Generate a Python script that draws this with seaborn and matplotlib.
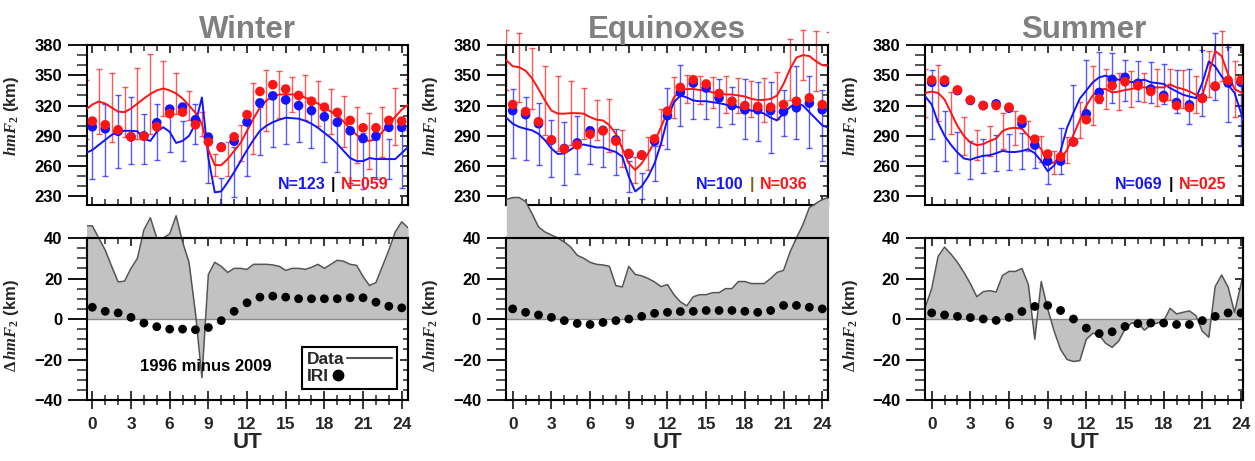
import numpy as np
import matplotlib
matplotlib.use("Agg")
import matplotlib.pyplot as plt
import seaborn as sns
from matplotlib.ticker import FixedLocator, MultipleLocator
from matplotlib.patches import Rectangle
from matplotlib.lines import Line2D
from matplotlib.legend_handler import HandlerLine2D
from matplotlib.offsetbox import TextArea, HPacker, AnchoredOffsetbox

# ---------------- data ----------------
hours = np.arange(0, 25)                 # IRI points / 2009 error bars
hours_half = np.arange(-0.5, 24.51, 0.5)  # observed median curves
hours_red_err = hours_half[0::2]         # 1996 error bars

seasons = ["Winter", "Equinoxes", "Summer"]
n_2009 = ["N=123", "N=100", "N=069"]
n_1996 = ["N=059", "N=036", "N=025"]

# Winter
w_blue_line = [273, 276, 281, 286, 291, 294, 295, 295, 294.5, 287, 285, 294, 298.5, 294, 283, 285, 290, 302, 328, 268,
               234, 235, 244, 254, 265, 276, 286, 295, 300, 303.5, 306, 308, 307.5, 307, 305, 302, 298, 293, 288, 282,
               275, 268, 265, 265, 268, 267, 267, 267, 267, 273, 279]
w_red_line = [316, 321, 324, 322, 318, 314, 313.5, 317, 322, 327, 331.5, 335, 337, 335, 332, 327, 320, 313, 302, 276,
              261, 261, 267, 275, 283, 295, 307, 318, 325, 329, 331, 331, 331, 330, 328, 325, 322, 318, 314, 310,
              304, 297, 291, 286, 285, 287, 294, 301, 309, 316, 321]
w_blue_dots = [299, 297, 294.5, 289, 290, 303, 316.5, 318.5, 306, 288.6, 279, 284.7, 303.7, 322.7, 329.6, 325.6, 320,
               315, 309, 303.4, 295, 287.3, 289.6, 298.4, 298.4]
w_red_dots = [304.6, 301, 296, 289, 289.5, 299, 312, 313.5, 301, 284, 278.5, 289, 311, 334, 340.7, 336.4, 330, 324.3,
              318.4, 313.2, 305.3, 298, 298, 305.3, 304.6]
w_blue_err = [29, 36, 36, 33, 25, 28, 20, 20, 20, 25, 13, 25, 26, 24, 25, 26, 23, 24, 29, 28, 25, 28, 20, 20, 35]
w_red_err = [29, 32, 34, 25, 35, 40, 27, 20, 14, 12, 11, 17, 18, 35, 30, 23, 17, 22, 22, 22, 25, 28, 28, 25, 28, 25]
w_diff_line = [46, 46, 40, 34, 26, 18.3, 18.7, 25, 30, 44, 50, 40, 40, 42, 51, 38, 28, 3, -29, 22, 28, 26, 23, 25, 25,
               24.5, 27, 27, 27, 26.7, 26, 24, 25, 25, 24.5, 25.5, 27, 25, 27, 29, 28.5, 27, 26.5, 21, 16.5, 18, 26, 34,
               43, 48, 45]
w_diff_iri = [5.8, 3.8, 3, 0.8, -2, -3.8, -5, -5, -5.3, -4.2, -0.8, 3.8, 8, 10.8, 11.3, 10.8, 10, 10, 10, 10, 10.5,
              10.5, 8.3, 6.3, 5.5]

# Equinoxes
e_blue_line = [308, 302, 298.8, 297, 295.5, 292, 285.7, 277.5, 272, 272.6, 276.5, 280.8, 281.4, 280, 278.5, 278.5, 276,
               274, 269.3, 249.6, 234.9, 240, 249.6, 262.7, 282.4, 307, 323.3, 330, 328, 325, 324.3, 324.3, 323.3, 322.4,
               321, 320, 318.4, 316.8, 315, 314.2, 312, 308, 305.3, 312.5, 318.4, 323.3, 320, 313.5, 307, 300.4, 298]
e_red_line = [365, 359, 358, 354.5, 347, 336.4, 325, 315, 312, 312, 312.5, 312.5, 312, 308.6, 306, 305.3, 300.4, 292,
              277.5, 262.7, 256.2, 262.7, 272.6, 284, 298.8, 313.5, 328, 335, 336.4, 336.4, 335.4, 334.8, 333, 332, 331,
              331, 330, 329, 326.6, 325.6, 325.6, 326.6, 330, 341.4, 356, 367.5, 370, 369, 364, 360, 359.4]
e_blue_dots = [315, 311, 302, 285.7, 277.5, 283, 295, 295.5, 286, 272, 271, 284.7, 310, 333, 342.3, 337.4, 327.6, 320,
               315.8, 315.8, 315, 314, 317.8, 322.4, 315.8]
e_red_dots = [321, 314, 304, 286, 277, 281, 291.6, 295, 284.7, 272.6, 271, 287, 314.5, 338, 345.6, 341.4, 332, 324.3,
              320, 319, 318.4, 321, 324.3, 327.6, 321]
e_blue_err = [34, 31, 31, 28, 31, 29, 18, 19, 23, 15, 13, 17, 30, 30, 18, 18, 24, 18, 30, 29, 35, 23, 36, 36, 35]
e_red_err = [30, 34, 30, 34, 37, 32, 25, 20, 26, 18, 13, 16, 18, 20, 14, 14, 15, 18, 17, 18, 22, 23, 30, 25, 30, 33]
e_diff_line = [59, 60, 60, 58, 52, 45.5, 43, 41.5, 40, 38, 35.5, 31.5, 30, 28, 27, 26.7, 26, 16.5, 15.8, 26, 22, 21.3,
               20, 18.3, 16, 17, 12, 8.5, 6.5, 11, 12, 12, 13, 13, 15, 15, 18.5, 18.5, 17.5, 17.5, 17.5, 20, 23, 24, 33,
               40, 46.5, 55, 57, 59, 60]
e_diff_iri = [5, 3.3, 2, 0.8, -0.8, -2.2, -2.7, -1.7, -0.8, 0, 1.3, 2.8, 3.3, 3.7, 3.8, 4.2, 4.2, 4.2, 3.8, 3.3, 4.2,
              6.7, 6.7, 5.8, 5]

# Summer
s_blue_line = [329, 321, 303, 290, 281, 273.5, 267.6, 266.3, 268.6, 270.2, 270.8, 272.8, 275.1, 274, 274, 275, 276.8,
               272.8, 265, 255, 260.6, 275, 298, 313, 327, 335, 343, 348, 349.6, 347.3, 345.6, 345, 343, 344.6, 345.6,
               343, 342.3, 341.4, 337.4, 334, 330.8, 329, 327.4, 342.3, 363.6, 358.7, 348.9, 340.7, 332.5, 312.8, 293]
s_red_line = [332.5, 333.8, 332.5, 326, 312.8, 299.7, 289.9, 283.4, 280.8, 281.8, 285, 287.3, 294.8, 297.4, 298, 297,
              289.9, 283.4, 276.8, 262, 263.7, 267, 276, 291, 306, 320, 330, 336, 336.4, 333, 333.8, 335.4, 336.4, 338,
              338, 338, 338, 338, 341, 338, 336.4, 334, 330.8, 329.8, 351, 374, 369, 351, 336.4, 333, 331.5]
s_blue_dots = [343, 343, 334.8, 325, 320, 321.7, 317.4, 302, 280.8, 265, 265, 284, 311.8, 333, 346, 348, 342, 336.4,
               330, 323, 320.7, 327.4, 339, 342.4, 343]
s_red_dots = [345.3, 345.3, 335.5, 325.6, 320, 320, 318.4, 306.3, 286.7, 272, 269.3, 284, 306, 326.6, 339.7, 343.6,
              339.7, 334, 327.6, 320, 318, 327, 339.4, 345, 345.3]
s_blue_err = [34, 25, 20, 19, 17, 18, 18, 18, 15, 13, 23, 27, 30, 25, 25, 20, 20, 20, 20, 21, 27, 33, 33, 37, 33]
s_red_err = [24, 28, 21, 19, 15, 15, 18, 17, 15, 13, 11, 13, 18, 29, 20, 18, 18, 14, 18, 15, 19, 18, 23, 25, 28, 25]
s_diff_line = [5.8, 15, 31, 35.5, 32, 28, 23, 17.5, 11, 13.5, 14, 13.3, 21.5, 23.5, 23.5, 25, 17, -10, 18.5, 5, -6,
               -15, -20, -21, -20.5, -10, -7, -8, -12, -14, -11, -5, -2, -2, -5.5, -3, -2, -1, 5.3, 2.5, 3.3, 4, 1.7,
               -6, -9, 16, 21.7, 15.8, 3.3, 17, 31]
s_diff_iri = [3, 2, 1.3, 0.7, 0, -0.7, 0.8, 3.7, 6.2, 6.7, 4.2, 0, -4.5, -7.2, -6.3, -3.7, -2.3, -2, -2, -2.7, -2.7,
              -0.8, 1.3, 3, 3]

blue_lines = [w_blue_line, e_blue_line, s_blue_line]
red_lines = [w_red_line, e_red_line, s_red_line]
blue_dots = [w_blue_dots, e_blue_dots, s_blue_dots]
red_dots = [w_red_dots, e_red_dots, s_red_dots]
blue_errs = [w_blue_err, e_blue_err, s_blue_err]
red_errs = [w_red_err, e_red_err, s_red_err]
diff_lines = [w_diff_line, e_diff_line, s_diff_line]
diff_iris = [w_diff_iri, e_diff_iri, s_diff_iri]

x_ticks = [0, 3, 6, 9, 12, 15, 18, 21, 24]
top_yticks = [230, 260, 290, 320, 350, 380]
bot_yticks = [-40, -20, 0, 20, 40]

# ---------------- style ----------------
sns.set_theme(style="ticks")
plt.rcParams["font.family"] = ["Liberation Sans", "DejaVu Sans"]
plt.rcParams["font.weight"] = "bold"
plt.rcParams["mathtext.fontset"] = "custom"
plt.rcParams["mathtext.it"] = "Liberation Serif:italic"
plt.rcParams["mathtext.rm"] = "Liberation Serif"
plt.rcParams["mathtext.bf"] = "Liberation Sans:bold"

BLUE = "#1414ff"
RED = "#ff1414"
FILL = "#c2c2c2"
DATA_C = "#555555"
TITLE_C = "#808080"
TICK_FS = 12

fig = plt.figure(figsize=(12.55, 4.61), dpi=100)

lefts = [87.3, 506.0, 925.0]
widths = [321.0, 322.3, 318.3]
xlims = [(-0.39, 24.51), (-0.52, 24.47), (-0.52, 24.18)]
W, H = 1255.0, 461.0
sep_colors = ["black", "#806020", "black"]
n_right = [0.938, 0.935, 0.946]


class LeftMarkerHandler(HandlerLine2D):
    """Single legend marker placed near the left of the handle box."""
    def get_xdata(self, legend, xdescent, ydescent, width, height, fontsize):
        xdata = np.array([-xdescent, -xdescent + 0.3 * width])
        return xdata, np.array([-xdescent + 0.15 * width])


def tall_clip(ax):
    return Rectangle((0, -1.0), 1, 3.0, transform=ax.transAxes)


def style_axes(ax, yticks, ymin_step, bottom_panel):
    ax.xaxis.set_major_locator(FixedLocator(x_ticks))
    ax.xaxis.set_minor_locator(MultipleLocator(1))
    ax.yaxis.set_major_locator(FixedLocator(yticks))
    ax.yaxis.set_minor_locator(MultipleLocator(ymin_step))
    for sp in ax.spines.values():
        sp.set_linewidth(1.5)
        sp.set_color("black")
        sp.set_visible(True)
    ax.tick_params(axis="y", which="major", direction="out", length=14, width=1.3,
                   left=True, right=False, pad=4, labelsize=TICK_FS, colors="black")
    ax.tick_params(axis="y", which="minor", direction="out", length=7, width=1.1,
                   left=True, right=False)
    secy = ax.secondary_yaxis("right")
    secy.yaxis.set_major_locator(FixedLocator(yticks))
    secy.yaxis.set_minor_locator(MultipleLocator(ymin_step))
    secy.tick_params(axis="y", which="major", direction="in", length=6, width=1.3, labelright=False)
    secy.tick_params(axis="y", which="minor", direction="in", length=3.5, width=1.1, labelright=False)
    secy.spines["right"].set_linewidth(1.5)
    if bottom_panel:
        ax.tick_params(axis="x", which="major", direction="inout", length=13, width=1.3,
                       bottom=True, top=False, pad=6, labelsize=TICK_FS + 0.5)
        ax.tick_params(axis="x", which="minor", direction="inout", length=7, width=1.1,
                       bottom=True, top=False)
        secx = ax.secondary_xaxis("top")
        secx.xaxis.set_major_locator(FixedLocator(x_ticks))
        secx.xaxis.set_minor_locator(MultipleLocator(1))
        secx.tick_params(axis="x", which="major", direction="in", length=6, width=1.3, labeltop=False)
        secx.tick_params(axis="x", which="minor", direction="in", length=4, width=1.1, labeltop=False)
        secx.spines["top"].set_linewidth(1.5)
    else:
        ax.tick_params(axis="x", which="major", direction="in", length=6, width=1.3,
                       bottom=True, top=True, labelbottom=False)
        ax.tick_params(axis="x", which="minor", direction="in", length=4, width=1.1,
                       bottom=True, top=True)


for i, season in enumerate(seasons):
    l = lefts[i] / W
    w = widths[i] / W
    ax_t = fig.add_axes([l, 1 - 205 / H, w, 160 / H])
    ax_b = fig.add_axes([l, 1 - 400 / H, w, 162 / H])

    # ---------- top panel ----------
    bl = np.array(blue_lines[i])
    rl = np.array(red_lines[i])
    clip_t = tall_clip(ax_t)
    eb = ax_t.errorbar(hours, bl[1::2], yerr=blue_errs[i], fmt="none", ecolor=BLUE,
                       elinewidth=1.0, capsize=2, capthick=1.0, alpha=0.7, zorder=2)
    for a in eb.get_children():
        a.set_clip_path(clip_t)
    er = ax_t.errorbar(hours_red_err, rl[0::2], yerr=red_errs[i], fmt="none", ecolor=RED,
                       elinewidth=1.0, capsize=2, capthick=1.0, alpha=0.7, zorder=2)
    for a in er.get_children():
        a.set_clip_path(clip_t)
    sns.lineplot(x=hours_half, y=bl, ax=ax_t, color=BLUE, linewidth=1.4, zorder=3)
    sns.lineplot(x=hours_half, y=rl, ax=ax_t, color=RED, linewidth=1.4, zorder=3)
    sns.scatterplot(x=hours, y=blue_dots[i], ax=ax_t, color=BLUE, s=48, edgecolor="none", zorder=4)
    sns.scatterplot(x=hours, y=red_dots[i], ax=ax_t, color=RED, s=48, edgecolor="none", zorder=5)
    ax_t.set_xlim(*xlims[i])
    ax_t.set_ylim(221.5, 380)
    style_axes(ax_t, top_yticks, 10, False)
    ax_t.set_xlabel("")
    ax_t.set_ylabel(r"$\mathit{hmF}_{2}$ (km)", fontsize=12, fontweight="bold")
    ax_t.yaxis.set_label_coords(-0.205, 0.56)
    ax_t.set_title(season, fontsize=22.5, fontweight="bold", color=TITLE_C, pad=4)

    tp = dict(fontsize=11.5, fontweight="bold")
    box = HPacker(children=[TextArea(n_2009[i], textprops=dict(color=BLUE, **tp)),
                            TextArea("|", textprops=dict(color=sep_colors[i], **tp)),
                            TextArea(n_1996[i], textprops=dict(color=RED, **tp))],
                  sep=4, pad=0, align="baseline")
    anch = AnchoredOffsetbox(loc="lower right", child=box, pad=0, borderpad=0, frameon=False,
                             bbox_to_anchor=(n_right[i], 0.08), bbox_transform=ax_t.transAxes)
    ax_t.add_artist(anch)

    # ---------- bottom panel ----------
    clip_b = tall_clip(ax_b)
    dl = np.array(diff_lines[i])
    poly = ax_b.fill_between(hours_half, 0, dl, color=FILL, linewidth=0, zorder=1)
    poly.set_clip_path(clip_b)
    ax_b.axhline(0, color="#8a8a8a", linewidth=1.0, zorder=1.5)
    sns.lineplot(x=hours_half, y=dl, ax=ax_b, color=DATA_C, linewidth=1.1, zorder=2)
    ax_b.lines[-1].set_clip_path(clip_b)
    sns.scatterplot(x=hours, y=diff_iris[i], ax=ax_b, color="black", s=40, edgecolor="none", zorder=4)
    ax_b.set_xlim(*xlims[i])
    ax_b.set_ylim(-40, 40)
    style_axes(ax_b, bot_yticks, 5, True)
    ax_b.set_xlabel("UT", fontsize=16, fontweight="bold", labelpad=0)
    ax_b.set_ylabel(r"$\Delta\,\mathit{hmF}_{2}$ (km)", fontsize=12, fontweight="bold")
    ax_b.yaxis.set_label_coords(-0.205, 0.46)

    if i == 0:
        iri_handle = Line2D([], [], marker="o", ls="none", color="black", markersize=7.5)
        handles = [Line2D([], [], color=DATA_C, lw=1.5), iri_handle]
        leg = ax_b.legend(handles, ["Data", "IRI"], loc="lower right", bbox_to_anchor=(0.966, 0.068),
                          markerfirst=False, frameon=True, fancybox=False, edgecolor="black",
                          framealpha=1, prop=dict(weight="bold", size=12.5), handlelength=2.6,
                          handletextpad=0.15, borderpad=0.3, labelspacing=0.1, borderaxespad=0,
                          handler_map={iri_handle: LeftMarkerHandler()})
        leg.get_frame().set_linewidth(1.5)
        try:
            for col in leg._legend_handle_box.get_children():
                col.align = "left"
        except Exception:
            pass
        ax_b.text(0.368, 0.207, "1996 minus 2009", transform=ax_b.transAxes, ha="center", va="center",
                  fontsize=12, fontweight="bold", color="black")

fig.savefig("out.png", dpi=100)
